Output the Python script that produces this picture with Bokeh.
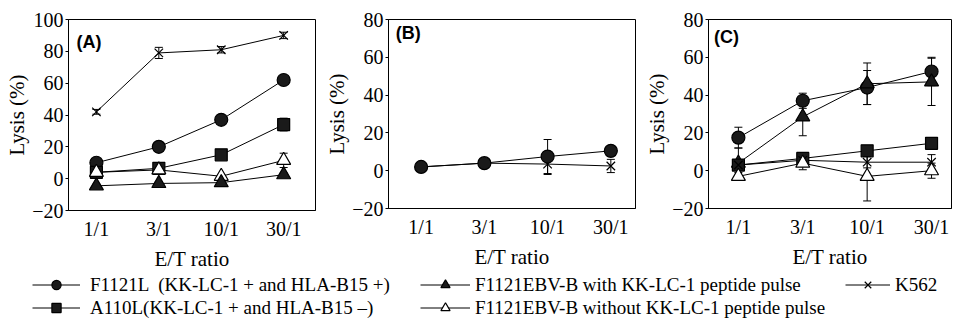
from bokeh.plotting import figure
from bokeh.layouts import column, row
from bokeh.models import (ColumnDataSource, Whisker, TeeHead, FixedTicker, Range1d,
                          Label, Legend, LegendItem)
from bokeh.embed import file_html
from bokeh.resources import INLINE

# ---------------- data ----------------
categories = ["1/1", "3/1", "10/1", "30/1"]

# Panel A
a_f1121l = [10, 20, 37, 62]
a_f1121l_err = [1.5, 1.5, 1.5, 2]
a_a110l = [4, 6.5, 15, 34]
a_a110l_err = [1, 1, 1.5, 4]
a_with = [-4.5, -3, -2.5, 2.5]
a_with_err = [1, 1, 1, 1]
a_without = [4, 5.5, 1.5, 11.5]
a_without_err = [1, 1, 1, 4.5]
a_k562 = [42, 79, 81, 90]
a_k562_err = [1.5, 3.5, 2, 2]

# Panel B
b_f1121l = [2, 4, 7.5, 10.5]
b_f1121l_err = [1, 1.5, 9, 1.5]
b_k562 = [2, 4, 3.5, 2.5]
b_k562_err = [1, 1, 5.5, 3.5]

# Panel C
c_f1121l = [17.5, 37, 44, 52.5]
c_f1121l_err = [5.5, 4, 9, 7.5]
c_with = [4, 28.5, 46, 47]
c_with_err = [8, 10, 11, 12.5]
c_a110l = [3, 6.5, 10.5, 14.5]
c_a110l_err = [2, 1.5, 2, 3]
c_k562 = [3, 5.5, 4.5, 4.5]
c_k562_err = [1, 1, 3, 4]
c_without = [-3, 4, -3, 0]
c_without_err = [2, 3.5, 13, 4]

yticks_a = [-20, 0, 20, 40, 60, 80, 100]
yticks_bc = [-20, 0, 20, 40, 60, 80]

legend_labels = {
    "f1121l": "F1121L  (KK-LC-1 + and HLA-B15 +)",
    "a110l": "A110L(KK-LC-1 + and HLA-B15 \u2013)",
    "with": "F1121EBV-B with KK-LC-1 peptide pulse",
    "without": "F1121EBV-B without KK-LC-1 peptide pulse",
    "k562": "K562",
}

SERIF = "Liberation Serif"
SANS = "Liberation Sans"
INK = "#1a1a1a"

styles = {
    "f1121l": dict(marker="circle", size=13, fill_color=INK),
    "a110l": dict(marker="square", size=12, fill_color=INK),
    "with": dict(marker="triangle", size=14, fill_color=INK),
    "without": dict(marker="triangle", size=14, fill_color="white"),
    "k562": dict(marker="x", size=12, fill_color=None),
}


def make_panel(tag, series, yticks, xr, fw, fh, bl, br, bt, bb, label_xy):
    p = figure(frame_width=fw, frame_height=fh, output_backend="svg", toolbar_location=None,
               x_range=Range1d(*xr), y_range=Range1d(yticks[0], yticks[-1]),
               min_border_left=bl, min_border_right=br, min_border_top=bt,
               min_border_bottom=bb)
    p.grid.visible = False
    p.outline_line_color = "black"
    p.outline_line_width = 1
    p.background_fill_color = "white"
    p.border_fill_color = "white"

    xs = [i + 1 for i in range(len(categories))]
    for key, vals, errs in series:
        src = ColumnDataSource(dict(
            x=xs, y=vals,
            upper=[v + e for v, e in zip(vals, errs)],
            lower=[v - e for v, e in zip(vals, errs)]))
        p.line("x", "y", source=src, line_color="black", line_width=1)
        w = Whisker(source=src, base="x", upper="upper", lower="lower",
                    line_color="black", line_width=1,
                    upper_head=TeeHead(size=8, line_color="black", line_width=1),
                    lower_head=TeeHead(size=8, line_color="black", line_width=1))
        p.add_layout(w)
    for key, vals, errs in series:
        st = styles[key]
        src = ColumnDataSource(dict(x=xs, y=vals))
        p.scatter("x", "y", source=src, marker=st["marker"], size=st["size"],
                  fill_color=st["fill_color"], line_color="black", line_width=1.2)

    yax = p.yaxis[0]
    yax.ticker = FixedTicker(ticks=yticks)
    yax.major_label_overrides = {t: ("\u2212" + str(-t) if t < 0 else str(t)) for t in yticks}
    yax.minor_tick_line_color = None
    yax.major_tick_in = 0
    yax.major_tick_out = 3
    yax.major_label_standoff = 2
    yax.axis_label = "Lysis (%)"
    yax.axis_label_standoff = 0
    yax.axis_label_text_font = SERIF
    yax.axis_label_text_font_style = "normal"
    yax.axis_label_text_font_size = "21px"
    yax.major_label_text_font = SERIF
    yax.major_label_text_font_size = "20px"
    yax.major_label_text_color = "black"
    yax.axis_label_text_color = "black"
    yax.axis_line_color = "black"

    xax = p.xaxis[0]
    xax.ticker = FixedTicker(ticks=xs)
    xax.major_label_overrides = {x: c for x, c in zip(xs, categories)}
    xax.minor_tick_line_color = None
    xax.major_tick_line_color = None
    xax.major_tick_in = 0
    xax.major_tick_out = 0
    xax.major_label_standoff = 7
    xax.axis_label = "E/T ratio"
    xax.axis_label_standoff = 4
    xax.axis_label_text_font = SERIF
    xax.axis_label_text_font_style = "normal"
    xax.axis_label_text_font_size = "21px"
    xax.major_label_text_font = SERIF
    xax.major_label_text_font_size = "20px"
    xax.major_label_text_color = "black"
    xax.axis_label_text_color = "black"
    xax.axis_line_color = "black"

    p.add_layout(Label(x=label_xy[0], y=label_xy[1], text=tag, text_font=SANS,
                       text_font_style="bold", text_font_size="18px",
                       text_baseline="middle", text_color="black"))
    return p


pA = make_panel("(A)", [("k562", a_k562, a_k562_err), ("f1121l", a_f1121l, a_f1121l_err),
                        ("a110l", a_a110l, a_a110l_err), ("without", a_without, a_without_err),
                        ("with", a_with, a_with_err)],
                yticks_a, (0.553, 4.51), 247, 191, 68, 5, 15, 64, (0.68, 86))
pB = make_panel("(B)", [("k562", b_k562, b_k562_err), ("f1121l", b_f1121l, b_f1121l_err)],
                yticks_bc, (0.484, 4.39), 247, 189, 68, 3, 19, 62, (0.6, 73))
pC = make_panel("(C)", [("f1121l", c_f1121l, c_f1121l_err), ("with", c_with, c_with_err),
                        ("a110l", c_a110l, c_a110l_err), ("k562", c_k562, c_k562_err),
                        ("without", c_without, c_without_err)],
                yticks_bc, (0.536, 4.31), 243, 189, 70, 1, 19, 62, (0.62, 71))

# ---------------- legend figure ----------------
pl = figure(width=952, height=52, output_backend="svg", toolbar_location=None,
            min_border=0, x_range=Range1d(0, 1), y_range=Range1d(0, 1))
pl.axis.visible = False
pl.grid.visible = False
pl.outline_line_color = None

NAN = float("nan")


def legend_item(key):
    st = styles[key]
    r1 = pl.line(x=[NAN], y=[NAN], line_color="black", line_width=1)
    r2 = pl.scatter(x=[NAN], y=[NAN], marker=st["marker"], size=st["size"] - 3,
                    fill_color=st["fill_color"], line_color="black", line_width=1.2)
    return LegendItem(label=legend_labels[key], renderers=[r1, r2])


def add_legend(keys, loc, glyph_w, standoff):
    lg = Legend(items=[legend_item(k) for k in keys], location=loc,
                orientation="vertical", glyph_width=glyph_w, glyph_height=23,
                label_height=23, spacing=0, padding=0, margin=0, label_standoff=standoff,
                label_text_font=SERIF, label_text_font_size="19px",
                label_text_color="black", label_text_baseline="middle",
                background_fill_alpha=0, border_line_color=None)
    pl.add_layout(lg)


add_legend(["f1121l", "a110l"], (32, 4), 48, 10)
add_legend(["with", "without"], (420, 4), 50, 5)
add_legend(["k562"], (845, 27), 45, 5)

layout = column(row(pA, pB, pC), pl)
open("out.html", "w").write(file_html(layout, INLINE))
